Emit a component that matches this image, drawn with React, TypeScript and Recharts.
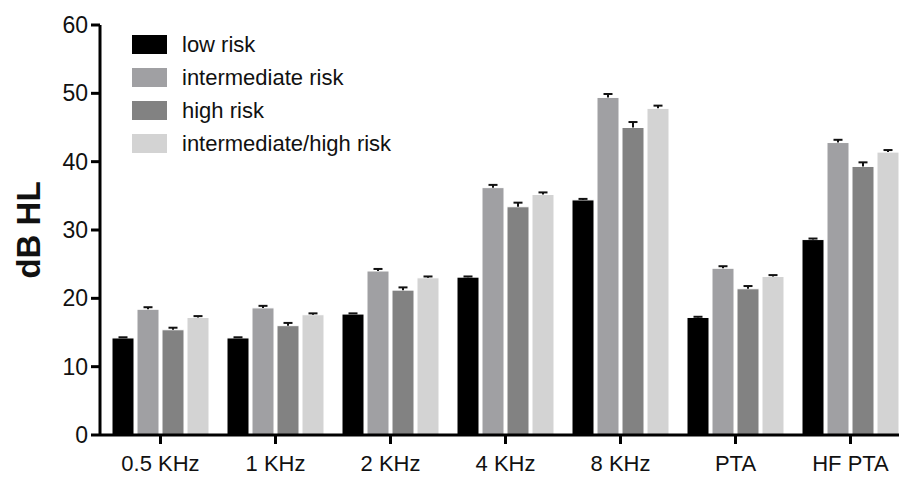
import { BarChart, Bar, XAxis, YAxis } from "recharts";

const categories = ["0.5 KHz", "1 KHz", "2 KHz", "4 KHz", "8 KHz", "PTA", "HF PTA"];
const lowRisk = [14.2, 14.2, 17.7, 23.1, 34.4, 17.2, 28.6];
const intermediateRisk = [18.4, 18.6, 24.0, 36.2, 49.4, 24.4, 42.8];
const highRisk = [15.4, 16.0, 21.2, 33.4, 45.0, 21.4, 39.3];
const interHighRisk = [17.2, 17.6, 23.0, 35.2, 47.8, 23.2, 41.4];

// SEM (upper only)
const lowErr = [0.1, 0.1, 0.1, 0.1, 0.15, 0.1, 0.15];
const intermediateErr = [0.3, 0.3, 0.3, 0.4, 0.5, 0.3, 0.4];
const highErr = [0.3, 0.4, 0.4, 0.6, 0.8, 0.4, 0.6];
const interHighErr = [0.2, 0.2, 0.2, 0.3, 0.4, 0.2, 0.3];

const yTicks = [0, 10, 20, 30, 40, 50, 60];

const series = [
  { key: "low", name: "low risk", color: "#000000", values: lowRisk, err: lowErr },
  { key: "inter", name: "intermediate risk", color: "#a0a0a3", values: intermediateRisk, err: intermediateErr },
  { key: "high", name: "high risk", color: "#828282", values: highRisk, err: highErr },
  { key: "interHigh", name: "intermediate/high risk", color: "#d3d3d3", values: interHighRisk, err: interHighErr },
];

const data = categories.map((c, i) => {
  const row: any = { name: c };
  series.forEach((s) => {
    row[s.key] = s.values[i];
    row[s.key + "Err"] = s.err[i];
  });
  return row;
});

const FONT = "'Liberation Sans', Arial, Helvetica, sans-serif";

// bar with a one-sided (upward) error bar, sized from the bar's own scale
function barWithError(errKey: string, valKey: string) {
  return (props: any) => {
    const { x, y, width, height, fill, payload } = props;
    const v = payload[valKey];
    const e = payload[errKey];
    const pxPer = v ? height / v : 0;
    const eh = e * pxPer;
    const cx = x + width / 2;
    return (
      <g>
        <rect x={x} y={y} width={width} height={height} fill={fill} stroke="#ffffff" strokeWidth={1} />
        <line x1={cx} x2={cx} y1={y} y2={y - eh} stroke="#111" strokeWidth={2} />
        <line x1={cx - 4.5} x2={cx + 4.5} y1={y - eh} y2={y - eh} stroke="#111" strokeWidth={2} />
      </g>
    );
  };
}

function LegendBox() {
  return (
    <div
      style={{
        position: "absolute",
        left: 132,
        top: 28,
        fontFamily: FONT,
        fontSize: 22,
        color: "#111",
        pointerEvents: "none",
      }}
    >
      {series.map((s) => (
        <div key={s.key} style={{ display: "flex", alignItems: "center", height: 33 }}>
          <div style={{ width: 35, height: 19, background: s.color, marginRight: 15 }} />
          <span>{s.name}</span>
        </div>
      ))}
    </div>
  );
}

export default function App() {
  return (
    <div style={{ position: "fixed", left: 0, top: 0, width: 899, height: 477, overflow: "hidden", background: "#fff" }}>
      <BarChart
        width={920}
        height={477}
        data={data}
        margin={{ top: 25, right: 12, bottom: 0, left: 0 }}
        barSize={22}
        barGap={3}
      >
        <XAxis
          dataKey="name"
          padding={{ left: 3, right: 0 }}
          axisLine={{ stroke: "#000", strokeWidth: 3 }}
          tickLine={{ stroke: "#000", strokeWidth: 3 }}
          tickSize={9}
          height={42}
          tick={{ fill: "#111", fontSize: 22, fontFamily: FONT }}
          tickMargin={11}
        />
        <YAxis
          domain={[0, 60]}
          ticks={yTicks}
          width={100}
          axisLine={{ stroke: "#000", strokeWidth: 3 }}
          tickLine={{ stroke: "#000", strokeWidth: 3 }}
          tickSize={9}
          tickMargin={3}
          tick={{ fill: "#111", fontSize: 23, fontFamily: FONT }}
          label={(props: any) => {
            const vb = props.viewBox;
            const cx = vb.x + 28;
            const cy = vb.y + vb.height / 2;
            return (
              <text
                x={cx}
                y={cy}
                transform={`rotate(-90, ${cx}, ${cy})`}
                textAnchor="middle"
                dominantBaseline="central"
                fontFamily={FONT}
                fontWeight="bold"
                fontSize={33}
                fill="#111"
              >
                dB HL
              </text>
            );
          }}
        />
        {series.map((s) => (
          <Bar
            key={s.key}
            dataKey={s.key}
            name={s.name}
            fill={s.color}
            isAnimationActive={false}
            shape={barWithError(s.key + "Err", s.key)}
          />
        ))}
      </BarChart>
      <LegendBox />
    </div>
  );
}
